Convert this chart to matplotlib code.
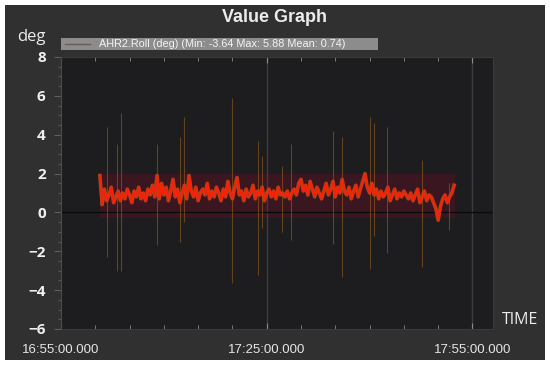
import datetime as dt
import matplotlib
matplotlib.use("Agg")
import matplotlib.pyplot as plt
import matplotlib.dates as mdates
from matplotlib.ticker import MultipleLocator, FuncFormatter

plt.rcParams['font.family'] = ['Liberation Sans', 'DejaVu Sans']

# ---------------- data ----------------
start_time = dt.datetime(2020, 1, 1, 17, 0, 40)
step_seconds = 20
roll_values = [
    # 17:00:40 - 17:09:40
    1.9, 0.4, 1.2, 0.6, 0.9, 1.3, 0.5, 0.8, 1.1, 0.6, 1.0, 0.7, 1.2, 0.9, 0.5, 1.1, 0.8, 1.3, 0.7, 1.0, 0.6, 1.2, 0.9, 1.4, 0.8, 1.9, 0.7,
    # 17:09:40 - 17:18:40
    1.5, 0.9, 1.3, 0.6, 1.1, 1.7, 0.8, 1.2, 0.5, 1.0, 1.4, 0.7, 1.9, 1.1, 0.8, 1.3, 0.6, 1.0, 1.2, 0.9, 1.5, 0.7, 1.1, 0.8, 1.3, 1.0, 0.6,
    # 17:18:40 - 17:27:40
    1.2, 0.8, 1.6, 1.0, 0.7, 1.3, 1.8, 0.9, 1.1, 0.6, 1.2, 0.8, 1.0, 1.4, 0.7, 1.1, 0.9, 1.3, 0.6, 1.0, 1.2, 0.8, 1.1, 0.7, 1.3, 0.9, 1.0,
    # 17:27:40 - 17:36:40
    0.8, 1.1, 0.7, 1.0, 1.2, 0.9, 1.5, 1.7, 1.1, 1.4, 0.9, 1.6, 1.2, 0.8, 1.3, 1.0, 0.7, 1.1, 1.5, 0.9, 1.2, 1.6, 0.8, 1.3, 1.0, 1.7, 1.1,
    # 17:36:40 - 17:45:40
    0.9, 1.3, 0.7, 1.1, 1.4, 0.8, 1.2, 1.6, 2.0, 1.3, 1.0, 1.5, 0.9, 1.2, 0.7, 1.1, 0.8, 1.0, 1.3, 0.6, 0.9, 1.2, 0.7, 1.0, 0.8, 1.1, 0.9,
    # 17:45:40 - 17:52:20
    0.7, 1.0, 0.6, 0.9, 1.2, 0.5, 0.8, 1.1, 0.6, 0.9, 0.8, 0.5, 0.2, -0.4, 0.3, 0.7, 0.9, 0.5, 0.8, 1.0, 1.4,
]
# short spikes: minutes after 16:55, high and low values
spike_minutes = [6.7, 8.15, 8.7, 14.0, 17.3, 18.0, 25.0, 28.7, 29.3, 32.2, 33.6, 39.6, 41.0, 45.0, 45.7, 47.5, 52.7, 56.6]
spike_high = [4.4, 3.5, 5.1, 3.5, 3.9, 4.9, 5.88, 3.7, 2.9, 2.4, 3.5, 4.2, 3.9, 4.9, 4.6, 4.4, 2.7, 1.5]
spike_low = [-2.3, -3.0, -3.0, -1.7, -1.5, -0.5, -3.64, -3.2, -0.8, -1.0, -1.4, -1.6, -3.3, -2.9, -1.2, -2.1, -2.8, -0.9]

legend_label = "AHR2.Roll (deg) (Min: -3.64 Max: 5.88 Mean: 0.74)"
y_ticks = [-6, -4, -2, 0, 2, 4, 6, 8]

base = dt.datetime(2020, 1, 1, 16, 55, 0)
times = [start_time + dt.timedelta(seconds=i * step_seconds) for i in range(len(roll_values))]
spike_times = [base + dt.timedelta(minutes=m) for m in spike_minutes]

# ---------------- figure ----------------
panel = "#303031"
plot_bg = "#1d1d1f"
fig = plt.figure(figsize=(5.5, 3.65), dpi=100, facecolor="white")
fig.patches.append(plt.Rectangle((5 / 550, 5 / 365), 540 / 550, 355 / 365,
                                 transform=fig.transFigure, facecolor=panel,
                                 edgecolor="none", zorder=-10))

ax = fig.add_axes([61 / 550, 1 - 329 / 365, 432 / 550, 272 / 365])
ax.set_facecolor(plot_bg)

# maroon halo around the signal band
ax.axhspan(-0.3, 2.0, xmin=(5.7 / 63.0), xmax=(57.4 / 63.0),
           color="#521222", alpha=0.55, lw=0, zorder=1)

# grid lines
for gm in [30, 60]:
    ax.axvline(base + dt.timedelta(minutes=gm), color="#3d3d3f", lw=1.0, zorder=1)
ax.axhline(0, color="#0a0a0a", lw=1.0, zorder=1)

# spikes
ax.vlines(spike_times, spike_low, spike_high, color="#a8681a", lw=0.8, alpha=0.5, zorder=2)

# main line (orange halo under red core)
ax.plot(times, roll_values, color="#c8621a", lw=2.6, alpha=0.7, zorder=3)
ax.plot(times, roll_values, color="#f5220a", lw=1.6, zorder=4)

ax.set_xlim(base, base + dt.timedelta(minutes=63))
ax.set_ylim(-6, 8)

ax.xaxis.set_major_locator(mdates.MinuteLocator(byminute=[25, 55]))
ax.xaxis.set_minor_locator(mdates.MinuteLocator(byminute=range(0, 60, 5)))
ax.xaxis.set_major_formatter(FuncFormatter(lambda v, p: mdates.num2date(v).strftime("%H:%M:%S") + ".000"))
ax.set_yticks(y_ticks)
ax.yaxis.set_minor_locator(MultipleLocator(0.5))

ax.tick_params(axis="x", which="both", colors="#8a8a8a", direction="in", top=True,
               labelcolor="#e6e6e6", labelsize=9.5, pad=11)
ax.tick_params(axis="x", which="major", length=4)
ax.tick_params(axis="x", which="minor", length=3)
ax.tick_params(axis="y", which="both", colors="#5e5e5e", direction="out",
               labelcolor="#f0f0f0", labelsize=11, pad=6)
ax.tick_params(axis="y", which="major", length=5)
ax.tick_params(axis="y", which="minor", length=2.5)
for lab in ax.get_yticklabels():
    lab.set_fontweight("bold")
    lab.set_family(["Open Sans", "DejaVu Sans"])

for s in ax.spines.values():
    s.set_color("#3a3a3c")
ax.spines["left"].set_color("#4a4a4c")

# texts
fig.text(275 / 550, 1 - 18 / 365, "Value Graph", ha="center", va="center",
         color="#ececec", fontsize=13, fontweight="bold")
fig.text(31 / 550, 1 - 37 / 365, "deg", ha="center", va="center",
         color="#ececec", fontsize=12, family=["Open Sans", "DejaVu Sans"])
fig.text(520 / 550, 1 - 320 / 365, "TIME", ha="center", va="center",
         color="#ececec", fontsize=11.5, family=["Open Sans", "DejaVu Sans"])

# legend bar
fig.patches.append(plt.Rectangle((61 / 550, 1 - 50 / 365), 317 / 550, 12 / 365,
                                 transform=fig.transFigure, facecolor="#8c8c8c",
                                 edgecolor="none", zorder=1))
fig.lines.append(plt.Line2D([65 / 550, 90 / 550], [1 - 44 / 365, 1 - 44 / 365],
                            transform=fig.transFigure, color="#6e5a50", lw=1.0, zorder=2))
fig.text(222 / 550, 1 - 44 / 365, legend_label, ha="center", va="center",
         color="#f4f4f4", fontsize=7.8)

fig.savefig("out.png", dpi=100, facecolor="white")
